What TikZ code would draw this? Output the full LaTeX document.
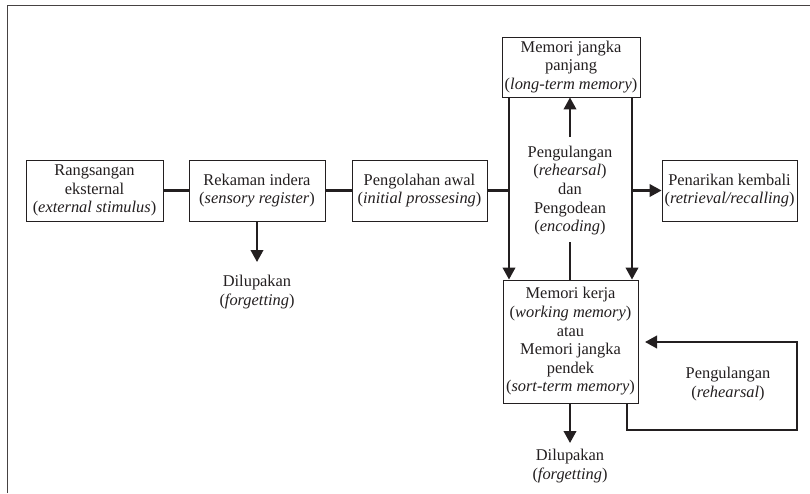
\documentclass[tikz,border=0pt]{standalone}
\usepackage{fontspec}
\setmainfont{Liberation Serif}
\usetikzlibrary{arrows.meta}
\definecolor{ink}{RGB}{35,31,32}
\definecolor{framec}{RGB}{70,66,66}
\begin{document}
\begin{tikzpicture}[x=1pt,y=-1pt,
  txt/.style={align=center, inner sep=0pt, text=ink, font=\fontsize{16.4}{18.6}\selectfont},
  box/.style={txt, draw=ink, line width=0.9pt, fill=white},
  conn/.style={draw=ink, line width=2.2pt},
  arr/.style={conn, -{Triangle[length=12pt,width=12.5pt]}}
]
\useasboundingbox (0,0) rectangle (810,493);
% partial frame
\draw[framec, line width=1.3pt] (7.5,493) -- (7.5,5.5) -- (810,5.5);

% boxes
\node[box, minimum width=137pt, minimum height=61pt] (ext) at (94.5,190.5)
  {Rangsangan\\eksternal\\(\textit{external stimulus})};
\node[box, minimum width=136pt, minimum height=61pt] (rek) at (257,190.5)
  {Rekaman indera\\(\textit{sensory register})};
\node[box, minimum width=135pt, minimum height=61pt] (pen) at (419.5,190.5)
  {Pengolahan awal\\(\textit{initial prossesing})};
\node[box, minimum width=135pt, minimum height=61pt] (ret) at (729.5,190.5)
  {Penarikan kembali\\(\textit{retrieval/recalling})};
\node[box, minimum width=138pt, minimum height=60pt] (ltm) at (571,67)
  {Memori jangka\\panjang\\(\textit{long-term memory})};
\node[box, minimum width=135pt, minimum height=123pt] (wm) at (570.5,341.5)
  {Memori kerja\\(\textit{working memory})\\atau\\Memori jangka\\pendek\\(\textit{sort-term memory})};

% labels
\node[txt] (mid) at (570,190.5)
  {Pengulangan\\(\textit{rehearsal})\\dan\\Pengodean\\(\textit{encoding})};
\node[txt] (dil1) at (257,292)
  {Dilupakan\\(\textit{forgetting})};
\node[txt] (dil2) at (570,466)
  {Dilupakan\\(\textit{forgetting})};
\node[txt] (reh) at (728,384)
  {Pengulangan\\(\textit{rehearsal})};

% junction coordinates
\coordinate (jL) at (509,190.5);
\coordinate (jR) at (632,190.5);
\coordinate (upS) at (570,137);
\coordinate (lnS) at (570,242);
\coordinate (d1tip) at (257,262);
\coordinate (d2tip) at (570,443);
\coordinate (lpS) at (627,403);
\coordinate (lpA) at (797,430);
\coordinate (lpB) at (797,342);
\coordinate (lpE) at (645,342);

% connectors
\draw[conn] (ext.east) -- (rek.west);
\draw[conn] (rek.east) -- (pen.west);
\draw[conn] (pen.east) -- (jL);
\draw[arr] (rek.south) -- (d1tip);
\draw[arr] (ltm.south -| jL) -- (wm.north -| jL);
\draw[arr] (ltm.south -| jR) -- (wm.north -| jR);
\draw[arr] (jR) -- (ret.west);
\draw[arr] (upS) -- (ltm.south -| upS);
\draw[conn] (lnS) -- (wm.north -| lnS);
\draw[arr] (wm.south -| d2tip) -- (d2tip);
\draw[arr] (wm.south -| lpS) |- (lpA) -- (lpB) -- (lpE);
\end{tikzpicture}
\end{document}
